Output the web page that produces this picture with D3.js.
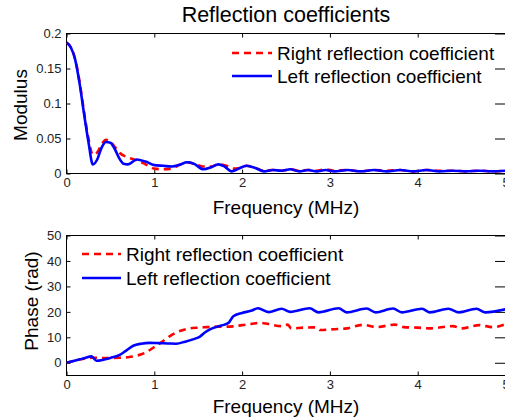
<!DOCTYPE html>
<html><head><meta charset="utf-8">
<script src="https://cdn.jsdelivr.net/npm/d3@7/dist/d3.min.js"></script>
<style>
html,body{margin:0;padding:0;background:#fff;overflow:hidden}
svg{display:block;font-family:"Liberation Sans",Arial,sans-serif}
</style></head>
<body>
<script>
// ---- data ----
const xTicks = [0, 1, 2, 3, 4, 5];
const modTicks = [0, 0.05, 0.1, 0.15, 0.2];
const modTickLabels = ["0", "0.05", "0.1", "0.15", "0.2"];
const phaseTicks = [0, 10, 20, 30, 40, 50];
const seriesNames = ["Right reflection coefficient", "Left reflection coefficient"];

const leftModF = [0,0.05,0.1,0.15,0.2,0.25,0.3,0.35,0.4,0.45,0.5,0.55,0.6,0.65,0.7,0.8,0.9,1.0,1.1,1.2,1.3,1.37,1.45,1.56,1.65,1.73,1.8,1.88,1.96,2.05,2.15,2.25,2.35,2.45,2.55,2.65,2.75,2.85,2.95,3.05,3.2,3.35,3.5,3.65,3.8,3.95,4.1,4.25,4.4,4.55,4.7,4.85,5.0];
const leftModV = [0.187,0.180,0.162,0.128,0.085,0.045,0.013,0.02,0.037,0.045,0.044,0.035,0.022,0.014,0.013,0.02,0.017,0.012,0.011,0.010,0.013,0.016,0.014,0.006,0.009,0.013,0.010,0.003,0.007,0.011,0.008,0.003,0.005,0.004,0.006,0.003,0.005,0.003,0.005,0.003,0.005,0.003,0.005,0.003,0.005,0.003,0.005,0.003,0.004,0.003,0.004,0.003,0.004];

const rightModF = [0,0.05,0.1,0.15,0.2,0.25,0.3,0.35,0.4,0.45,0.5,0.55,0.6,0.7,0.8,0.9,1.0,1.1,1.2,1.28,1.37,1.45,1.55,1.65,1.73,1.82,1.9,1.98,2.05,2.15,2.25,2.35,2.45,2.55,2.65,2.75,2.85,2.95,3.05,3.2,3.35,3.5,3.65,3.8,3.95,4.1,4.25,4.4,4.55,4.7,4.85,5.0];
const rightModV = [0.187,0.180,0.163,0.130,0.088,0.050,0.027,0.030,0.042,0.048,0.045,0.038,0.030,0.023,0.019,0.013,0.007,0.006,0.007,0.012,0.016,0.014,0.010,0.010,0.013,0.011,0.007,0.008,0.011,0.008,0.004,0.005,0.004,0.006,0.004,0.005,0.004,0.006,0.004,0.005,0.003,0.005,0.004,0.005,0.003,0.005,0.004,0.004,0.003,0.004,0.003,0.004];

const leftPhaseF = [0,0.1,0.2,0.285,0.34,0.42,0.5,0.6,0.68,0.76,0.85,0.95,1.05,1.15,1.25,1.35,1.45,1.52,1.58,1.64,1.72,1.8,1.85,1.9,2.0,2.1,2.18,2.3,2.45,2.55,2.77,2.87,3.1,3.19,3.42,3.52,3.72,3.82,4.05,4.14,4.35,4.47,4.67,4.77,5.0];
const leftPhaseV = [0,0.9,1.8,2.5,0.8,1.2,1.9,3.0,4.8,6.7,7.5,7.8,7.7,7.6,7.5,8.3,9.3,10.3,12,13.2,14.2,15,15.8,18.3,19.6,20.4,21.4,19.9,21.2,20.0,21.4,19.8,21.4,19.8,21.3,19.8,21.3,19.8,21.2,19.8,21.2,19.8,21.2,19.8,21.0];

const rightPhaseF = [0,0.1,0.2,0.3,0.4,0.5,0.6,0.7,0.8,0.9,1.0,1.1,1.2,1.3,1.4,1.5,1.6,1.7,1.8,1.9,2.0,2.1,2.2,2.3,2.45,2.52,2.56,2.7,2.85,2.89,3.05,3.19,3.38,3.53,3.74,3.84,4.0,4.13,4.4,4.5,4.7,4.86,5.0];
const rightPhaseV = [0,0.9,1.6,2.0,1.9,1.9,2.0,2.2,2.8,4.0,6.2,8.5,11,12.6,13.5,13.8,14,14.2,14.2,14.3,14.8,15.2,15.7,15.2,14.4,15,13.5,13.8,13.9,12.9,13.2,13.5,14.9,14,15,14,13.8,13.5,14.4,13.5,14.8,14,15.2];

// ---- drawing ----
const W = 505, H = 419;
const svg = d3.select("body").append("svg").attr("width", W).attr("height", H);
const FONT = "Liberation Sans, Arial, sans-serif";

const x = d3.scaleLinear().domain([0, 5]).range([66.5, 505.5]);
const yMod = d3.scaleLinear().domain([0, 0.2]).range([173.5, 33.5]);
const yPh = d3.scaleLinear().domain([-5, 50]).range([375.5, 235.5]);

const RED = "#ff0000", BLUE = "#0000ff";

function panel(y, yTickVals, yFmt, rightF, rightV, leftF, leftV, L) {
  const g = svg.append("g");
  const [y0, y1] = y.range();
  g.append("rect").attr("x", x.range()[0]).attr("y", y1).attr("width", x.range()[1]-x.range()[0]).attr("height", y0-y1)
    .attr("fill", "none").attr("stroke", "#000").attr("stroke-width", 1);
  g.append("g").attr("transform", `translate(0,${y0})`)
    .call(d3.axisBottom(x).tickValues(xTicks).tickFormat(d3.format("d")).tickSizeInner(-4).tickSizeOuter(0).tickPadding(4));
  g.append("g").attr("transform", `translate(0,${y1})`)
    .call(d3.axisTop(x).tickValues(xTicks).tickFormat("").tickSizeInner(-4).tickSizeOuter(0));
  g.append("g").attr("transform", `translate(${x.range()[0]},0)`)
    .call(d3.axisLeft(y).tickValues(yTickVals).tickFormat(yFmt).tickSizeInner(-4).tickSizeOuter(0).tickPadding(5));
  g.append("g").attr("transform", `translate(${W},0)`)
    .call(d3.axisRight(y).tickValues(yTickVals).tickFormat("").tickSizeInner(-10).tickSizeOuter(0));
  g.selectAll(".domain").attr("stroke", "none");
  g.selectAll(".tick line").attr("stroke", "#000");
  g.selectAll(".tick text").attr("font-family", FONT).attr("font-size", 13).attr("fill", "#222");

  const clipId = "clip" + Math.round(y1);
  svg.append("clipPath").attr("id", clipId).append("rect")
    .attr("x", x.range()[0]).attr("y", y1).attr("width", x.range()[1]-x.range()[0]).attr("height", y0-y1);

  const line = d3.line().x(d => x(d[0])).y(d => y(d[1])).curve(d3.curveMonotoneX);
  const plot = g.append("g").attr("clip-path", `url(#${clipId})`);
  plot.append("path").datum(rightF.map((f,i)=>[f,rightV[i]])).attr("d", line)
    .attr("fill","none").attr("stroke",RED).attr("stroke-width",2.6).attr("stroke-dasharray","7,5");
  plot.append("path").datum(leftF.map((f,i)=>[f,leftV[i]])).attr("d", line)
    .attr("fill","none").attr("stroke",BLUE).attr("stroke-width",2.6).attr("stroke-linejoin","round");

  const lg = g.append("g");
  [[RED, "7,5", seriesNames[0], L.y], [BLUE, null, seriesNames[1], L.y + L.dy]].forEach(([c, dash, name, yy]) => {
    const ln = lg.append("line").attr("x1", L.x1).attr("x2", L.x2).attr("y1", yy).attr("y2", yy)
      .attr("stroke", c).attr("stroke-width", 2.6);
    if (dash) ln.attr("stroke-dasharray", dash);
    lg.append("text").attr("x", L.tx).attr("y", yy + 6.5).text(name)
      .attr("font-family", FONT).attr("font-size", 19).attr("fill", "#000");
  });
  return g;
}

const topPanel = panel(yMod, modTicks, (d,i) => modTickLabels[i], rightModF, rightModV, leftModF, leftModV,
  {x1: 232, x2: 272, tx: 277, y: 53, dy: 23});
const botPanel = panel(yPh, phaseTicks, d3.format("d"), rightPhaseF, rightPhaseV, leftPhaseF, leftPhaseV,
  {x1: 82, x2: 121, tx: 126, y: 254, dy: 24});

svg.append("text").attr("x", 286).attr("y", 22).attr("text-anchor", "middle")
  .attr("font-family", FONT).attr("font-size", 21.5).text("Reflection coefficients");
svg.append("text").attr("x", 286).attr("y", 214).attr("text-anchor", "middle")
  .attr("font-family", FONT).attr("font-size", 19).text("Frequency (MHz)");
svg.append("text").attr("x", 286).attr("y", 413).attr("text-anchor", "middle")
  .attr("font-family", FONT).attr("font-size", 19).text("Frequency (MHz)");
svg.append("text").attr("transform", "translate(27,105) rotate(-90)").attr("text-anchor", "middle")
  .attr("font-family", FONT).attr("font-size", 19).text("Modulus");
svg.append("text").attr("transform", "translate(38,301) rotate(-90)").attr("text-anchor", "middle")
  .attr("font-family", FONT).attr("font-size", 19).text("Phase (rad)");
</script>
</body></html>
